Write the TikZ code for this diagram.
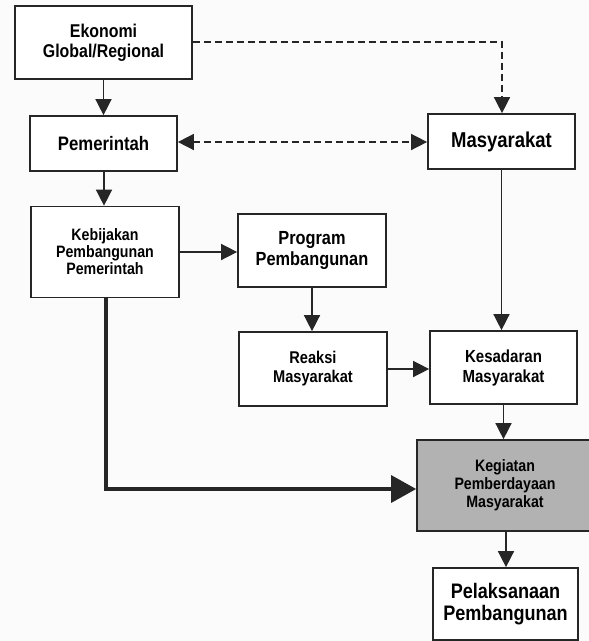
\documentclass[tikz,border=0pt]{standalone}
\usepackage{fontspec}
\setmainfont{Liberation Sans}[FakeStretch=0.86]
\usetikzlibrary{arrows.meta,calc}
\definecolor{ink}{HTML}{262626}
\definecolor{boxgray}{HTML}{B2B2B2}
\tikzset{
  x=1pt,y=-1pt,
  box/.style={draw=ink,line width=1.7pt,fill=white,align=center,inner sep=2pt,text=black},
  conn/.style={draw=ink,line width=1.5pt,-{Triangle[length=16pt,width=16pt]}},
  dconn/.style={conn,dash pattern=on 7pt off 4pt},
  thick conn/.style={draw=ink,line width=3.2pt,-{Triangle[length=25pt,width=27pt]}},
}
\begin{document}
\begin{tikzpicture}
\useasboundingbox (0,0) rectangle (589,641);
\clip (0,0) rectangle (589,641);
\fill[white!97!gray] (0,0) rectangle (589,641);
\node[box,minimum width=177pt,minimum height=73pt,font=\bfseries\fontsize{18.5}{20}\selectfont] (eko) at (103.5,42.5) {Ekonomi\\Global/Regional};
\node[box,minimum width=147pt,minimum height=55pt,font=\bfseries\fontsize{19.5}{20}\selectfont] (pem) at (103.5,143.5) {Pemerintah};
\node[box,minimum width=148pt,minimum height=91pt,font=\bfseries\fontsize{16.5}{17}\selectfont] (keb) at (105,252) {Kebijakan\\Pembangunan\\Pemerintah};
\node[box,minimum width=148pt,minimum height=73pt,font=\bfseries\fontsize{19}{21}\selectfont] (prog) at (312,250.5) {Program\\Pembangunan};
\node[box,minimum width=147pt,minimum height=55pt,font=\bfseries\fontsize{21.5}{22}\selectfont] (mas) at (501.5,141.5) {Masyarakat};
\node[box,minimum width=148pt,minimum height=74pt,font=\bfseries\fontsize{17}{19}\selectfont] (rea) at (313,369) {Reaksi\\Masyarakat};
\node[box,minimum width=147pt,minimum height=73pt,font=\bfseries\fontsize{17.5}{20}\selectfont] (kes) at (503.5,367.5) {Kesadaran\\Masyarakat};
\node[box,fill=boxgray,minimum width=182pt,minimum height=91pt,text width=170pt,font=\bfseries\fontsize{16.5}{18}\selectfont] (keg) at (508,485.5) {\hspace*{-6pt}Kegiatan\\\hspace*{-6pt}Pemberdayaan\\\hspace*{-6pt}Masyarakat};
\node[box,minimum width=145pt,minimum height=72pt,font=\bfseries\fontsize{21}{22}\selectfont] (pel) at (505.5,604) {Pelaksanaan\\Pembangunan};

\coordinate (c1) at (502,42);
\draw[dconn] (eko.east |- c1) -- (c1) -- (c1 |- mas.north);
\draw[dconn,{Triangle[length=16pt,width=16pt]}-{Triangle[length=16pt,width=16pt]}] (pem.east |- 0,142) -- (mas.west |- 0,142);
\draw[conn] (eko.south) -- (pem.north);
\coordinate (c0) at (104,0);
\draw[conn] (c0 |- pem.south) -- (c0 |- keb.north);
\draw[conn] (keb.east |- 0,252) -- (prog.west |- 0,252);
\draw[conn] (prog.south) -- (prog.south |- rea.north);
\draw[conn] (mas.south) -- (mas.south |- kes.north);
\draw[conn] (rea.east |- 0,369) -- (kes.west |- 0,369);
\coordinate (c2) at (106,489);
\draw[thick conn] (c2 |- keb.south) -- (c2) -- (keg.west |- c2);
\draw[conn] (kes.south) -- (kes.south |- keg.north);
\coordinate (c3) at (506,0);
\draw[conn] (c3 |- keg.south) -- (c3 |- pel.north);
\end{tikzpicture}
\end{document}
